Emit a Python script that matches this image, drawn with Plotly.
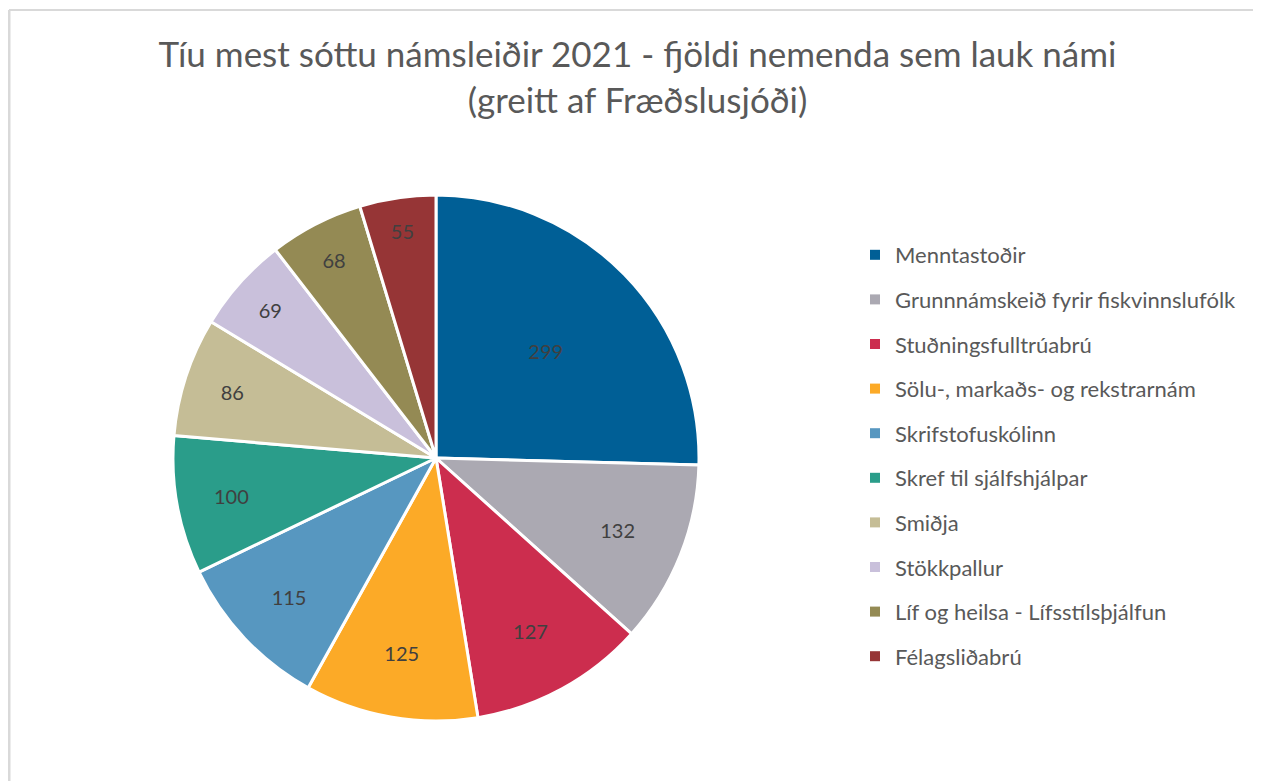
import plotly.graph_objects as go

# Tíu mest sóttu námsleiðir 2021
COURSES = ['Menntastoðir', 'Grunnnámskeið fyrir fiskvinnslufólk', 'Stuðningsfulltrúabrú',
           'Sölu-, markaðs- og rekstrarnám', 'Skrifstofuskólinn', 'Skref til sjálfshjálpar',
           'Smiðja', 'Stökkpallur', 'Líf og heilsa - Lífsstílsþjálfun', 'Félagsliðabrú']
STUDENTS = [299, 132, 127, 125, 115, 100, 86, 69, 68, 55]
COLOURS = ['#005f96', '#aba9b2', '#cc2d4e', '#fcaa27', '#5797c0',
           '#2a9d8a', '#c5bd96', '#c9c0db', '#948a54', '#963536']

FONT = 'Lato'
TEXT_COLOUR = '#595959'
OFFSET = 8  # the page body adds an 8px margin
W, H = 1261 - OFFSET, 781 - OFFSET


def px(x):
    """window x pixel -> paper fraction"""
    return (x - OFFSET) / W


def py(y):
    """window y pixel (from top) -> paper fraction"""
    return 1 - (y - OFFSET) / H


fig = go.Figure()

fig.add_trace(go.Pie(labels=COURSES,
                     values=STUDENTS,
                     sort=False,
                     direction='clockwise',
                     rotation=0,
                     marker=dict(colors=COLOURS, line=dict(color='white', width=3)),
                     textinfo='value',
                     textposition='inside',
                     insidetextorientation='horizontal',
                     textfont=dict(family=FONT, size=20, color='#404040'),
                     showlegend=False,
                     domain=dict(x=[px(173), px(699)], y=[py(721), py(195)]),
                     hoverinfo='label+value'))

# legend entries as separate items so the spacing can match the original
for name, colour in zip(COURSES, COLOURS):
    fig.add_trace(go.Scatter(x=[None], y=[None], mode='markers', name=name,
                             legendgroup=name,
                             marker=dict(symbol='square', size=10, color=colour)))

fig.update_layout(
    width=W, height=H,
    margin=dict(l=0, r=0, t=0, b=0),
    paper_bgcolor='white', plot_bgcolor='white',
    title=dict(text='Tíu mest sóttu námsleiðir 2021 - fjöldi nemenda sem lauk námi<br>'
                    '(greitt af Fræðslusjóði)',
               x=px(637.5), xanchor='center', y=py(67), yanchor='middle',
               font=dict(family=FONT, size=35, color=TEXT_COLOUR)),
    legend=dict(x=px(855), xanchor='left', y=py(234), yanchor='top',
                tracegroupgap=13,
                font=dict(family=FONT, size=22, color=TEXT_COLOUR),
                bgcolor='rgba(0,0,0,0)'),
    shapes=[dict(type='line', xref='paper', yref='paper', x0=px(9), x1=1, y0=py(10),
                 y1=py(10), line=dict(color='#d9d9d9', width=2)),
            dict(type='line', xref='paper', yref='paper', x0=px(9), x1=px(9), y0=0,
                 y1=py(10), line=dict(color='#d9d9d9', width=3))],
)
fig.update_xaxes(visible=False)
fig.update_yaxes(visible=False)

fig.write_html('out.html')
